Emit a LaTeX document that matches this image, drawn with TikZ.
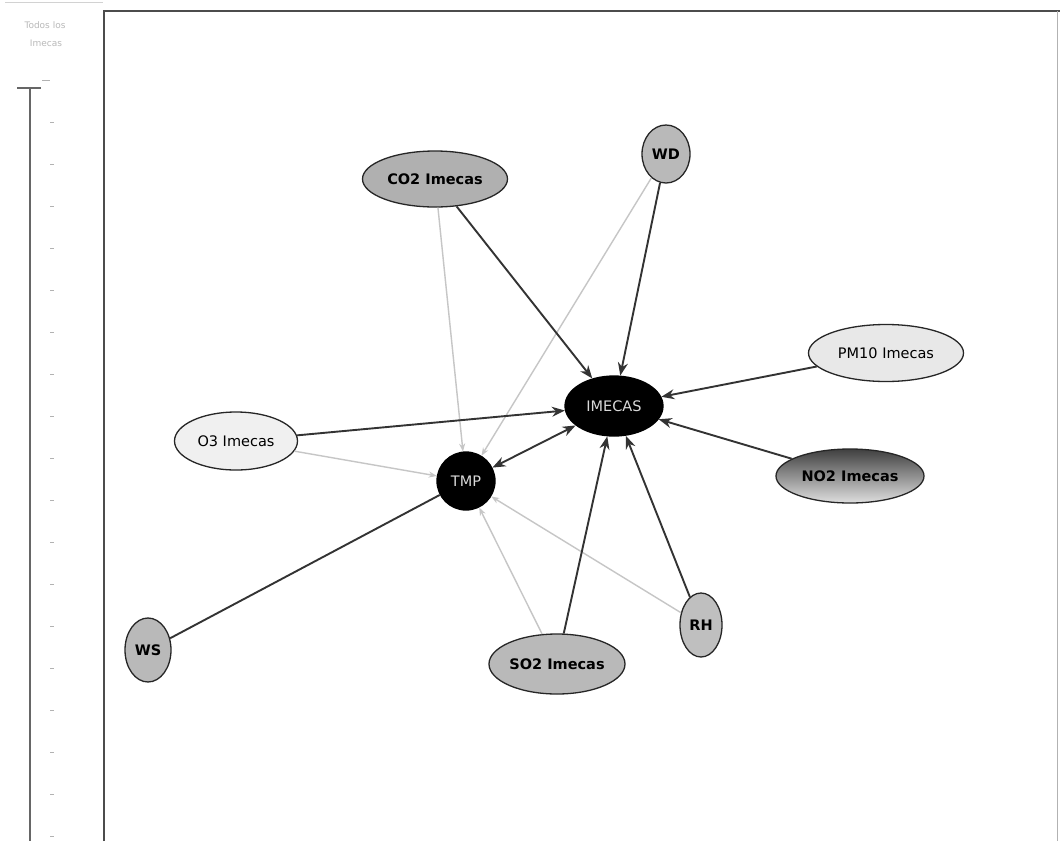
\documentclass[tikz,border=0pt]{standalone}
\usepackage{fontspec}
\setsansfont{DejaVu Sans}
\usetikzlibrary{shapes.geometric,arrows.meta}
\tikzset{
  nd/.style={ellipse, draw=black!85, line width=1.3pt, inner sep=0pt,
    font=\sffamily\bfseries\fontsize{14.5}{14.5}\selectfont, text=black},
  ndl/.style={nd, font=\sffamily\fontsize{14.5}{14.5}\selectfont},
  hub/.style={ellipse, draw=black, line width=1.3pt, fill=black, inner sep=0pt,
    text=gray!30, font=\sffamily\fontsize{14.5}{14.5}\selectfont},
  dk/.style={draw=black!80, line width=1.9pt, -{Stealth[length=13pt,width=10pt]}},
  lt/.style={draw=gray!45, line width=1.4pt, -{Stealth[length=8pt,width=6pt]}},
  frame/.style={draw=black!70, line width=1.5pt},
  tick/.style={draw=gray!60, line width=0.9pt}
}
\begin{document}
\begin{tikzpicture}[x=1pt,y=-1pt]
\useasboundingbox (0,0) rectangle (1060,841);
\fill[white] (0,0) rectangle (1060,841);
% left panel
\draw[gray!35, line width=0.8pt] (5,2) -- (103,2);
\node[font=\sffamily\fontsize{9}{9}\selectfont, text=gray!55] (t1) at (45,25) {Todos los};
\node[font=\sffamily\fontsize{9}{9}\selectfont, text=gray!55] (t2) at (46,43) {Imecas};
\draw[frame, draw=black!60] (30,88) -- (30,841);
\draw[frame, draw=black!60] (17,88) -- (41,88);
\draw[tick] (42,80) -- (50,80);
\foreach \yy in {122,164,...,838} { \draw[tick] (50,\yy) -- (54,\yy); }
% frame
\draw[frame] (104,841) -- (104,11) -- (1060,11);
\draw[gray!60, line width=1pt] (1057,11) -- (1057,841);
% nodes
\node[hub, minimum width=98pt, minimum height=60pt] (IM) at (614,406) {IMECAS};
\node[hub, circle, minimum size=58pt] (TMP) at (466,481) {TMP};
\node[nd, fill=gray!62, minimum width=145pt, minimum height=56pt] (CO2) at (435,179) {CO2 Imecas};
\node[nd, fill=gray!55, minimum width=48pt, minimum height=58pt] (WD) at (666,154) {WD};
\node[ndl, fill=gray!18, minimum width=155pt, minimum height=57pt] (PM10) at (886,353) {PM10 Imecas};
\node[nd, top color=black!75, bottom color=gray!25, minimum width=148pt, minimum height=54pt] (NO2) at (850,476) {NO2 Imecas};
\node[ndl, fill=gray!12, minimum width=123pt, minimum height=58pt] (O3) at (236,441) {O3 Imecas};
\node[nd, fill=gray!55, minimum width=46pt, minimum height=64pt] (WS) at (148,650) {WS};
\node[nd, fill=gray!55, minimum width=136pt, minimum height=60pt] (SO2) at (557,664) {SO2 Imecas};
\node[nd, fill=gray!50, minimum width=42pt, minimum height=64pt] (RH) at (701,625) {RH};
% light edges into TMP
\draw[lt] (CO2) -- (TMP);
\draw[lt] (WD) -- (TMP);
\draw[lt] (O3) -- (TMP);
\draw[lt] (SO2) -- (TMP);
\draw[lt] (RH) -- (TMP);
% dark edges into IMECAS
\draw[dk] (CO2) -- (IM);
\draw[dk] (WD) -- (IM);
\draw[dk] (PM10) -- (IM);
\draw[dk] (NO2) -- (IM);
\draw[dk] (RH) -- (IM);
\draw[dk] (SO2) -- (IM);
\draw[dk] (O3) -- (IM);
\draw[dk, {Stealth[length=13pt,width=10pt]}-{Stealth[length=13pt,width=10pt]}] (TMP) -- (IM);
\draw[dk, -] (WS) -- (TMP);
\end{tikzpicture}
\end{document}
